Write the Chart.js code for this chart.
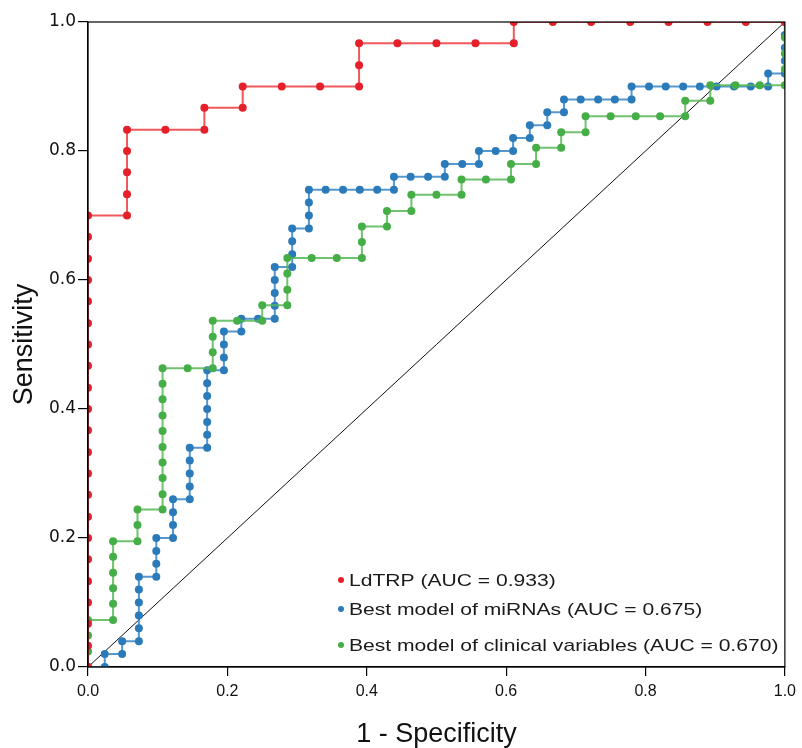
<!DOCTYPE html>
<html><head><meta charset="utf-8">
<script src="https://cdn.jsdelivr.net/npm/chart.js@4.4.1/dist/chart.umd.min.js"></script>
<style>html,body{margin:0;padding:0;background:#fff;overflow:hidden}#wrap{width:802px;height:748px;position:relative}</style>
</head><body><div id="wrap"><canvas id="c" width="802" height="748"></canvas></div>
<script>
// ---- data ----
const redFPR = [0,0,0,0,0,0,0,0,0,0,0,0,0,0,0,0,0,0,0,0,0,0,
  0.056,0.056,0.056,0.056,0.056,0.111,0.167,0.167,0.222,0.222,0.278,0.333,0.389,0.389,0.389,
  0.444,0.500,0.556,0.611,0.611,0.667,0.722,0.778,0.833,0.889,0.944,1];
const redTPR = [0,0.033,0.067,0.100,0.133,0.167,0.200,0.233,0.267,0.300,0.333,0.367,0.400,0.433,0.467,0.500,0.533,0.567,0.600,0.633,0.667,0.700,
  0.700,0.733,0.767,0.800,0.833,0.833,0.833,0.867,0.867,0.900,0.900,0.900,0.900,0.933,0.967,
  0.967,0.967,0.967,0.967,1,1,1,1,1,1,1,1];

const blueFPR = [0,0.024,0.024,0.049,0.049,0.073,0.073,0.073,0.073,0.073,0.073,0.098,0.098,0.098,0.098,
  0.122,0.122,0.122,0.122,0.146,0.146,0.146,0.146,0.146,0.171,0.171,0.171,0.171,0.171,0.171,0.171,
  0.195,0.195,0.195,0.195,0.220,0.220,0.244,0.268,0.268,0.268,0.268,0.268,0.293,0.293,0.293,0.293,
  0.317,0.317,0.317,0.317,0.341,0.366,0.390,0.415,0.439,0.439,0.463,0.488,0.512,0.512,0.537,0.561,0.561,
  0.585,0.610,0.610,0.634,0.634,0.659,0.659,0.683,0.683,0.707,0.732,0.756,0.780,0.780,
  0.805,0.829,0.854,0.878,0.902,0.927,0.951,0.976,0.976,1,1,1,1,1];
const blueTPR = [0,0,0.02,0.02,0.04,0.04,0.06,0.08,0.10,0.12,0.14,0.14,0.16,0.18,0.20,
  0.20,0.22,0.24,0.26,0.26,0.28,0.30,0.32,0.34,0.34,0.36,0.38,0.40,0.42,0.44,0.46,
  0.46,0.48,0.50,0.52,0.52,0.54,0.54,0.54,0.56,0.58,0.60,0.62,0.62,0.64,0.66,0.68,
  0.68,0.70,0.72,0.74,0.74,0.74,0.74,0.74,0.74,0.76,0.76,0.76,0.76,0.78,0.78,0.78,0.80,
  0.80,0.80,0.82,0.82,0.84,0.84,0.86,0.86,0.88,0.88,0.88,0.88,0.88,0.90,
  0.90,0.90,0.90,0.90,0.90,0.90,0.90,0.90,0.92,0.92,0.94,0.96,0.98,1.00];

const greenFPR = [0,0,0,0,0.036,0.036,0.036,0.036,0.036,0.036,0.071,0.071,0.071,
  0.107,0.107,0.107,0.107,0.107,0.107,0.107,0.107,0.107,0.107,0.143,0.179,0.179,0.179,0.179,
  0.214,0.250,0.250,0.286,0.286,0.286,0.286,0.321,0.357,0.393,0.393,0.393,0.429,0.429,0.464,0.464,
  0.500,0.536,0.536,0.571,0.607,0.607,0.643,0.643,0.679,0.679,0.714,0.714,0.750,0.786,0.821,
  0.857,0.857,0.893,0.893,0.929,0.964,1,1,1,1,1];
const greenTPR = [0,0.024,0.049,0.073,0.073,0.098,0.122,0.146,0.171,0.195,0.195,0.220,0.244,
  0.244,0.268,0.293,0.317,0.341,0.366,0.390,0.415,0.439,0.463,0.463,0.463,0.488,0.512,0.537,
  0.537,0.537,0.561,0.561,0.585,0.610,0.634,0.634,0.634,0.634,0.659,0.683,0.683,0.707,0.707,0.732,
  0.732,0.732,0.756,0.756,0.756,0.780,0.780,0.805,0.805,0.829,0.829,0.854,0.854,0.854,0.854,
  0.854,0.878,0.878,0.902,0.902,0.902,0.902,0.927,0.951,0.976,1];

const refLine = [0, 1];
const seriesLabels = ['LdTRP (AUC = 0.933)', 'Best model of miRNAs (AUC = 0.675)', 'Best model of clinical variables (AUC = 0.670)'];
const xTickLabels = ['0.0','0.2','0.4','0.6','0.8','1.0'];
const yTickLabels = ['0.0','0.2','0.4','0.6','0.8','1.0'];

const toPts = (xs, ys) => xs.map((x, i) => ({x, y: ys[i]}));

const colors = {
  red:   {pt: '#e5202a', ln: 'rgba(236,60,62,0.85)'},
  blue:  {pt: '#2b7bbb', ln: 'rgba(56,134,198,0.85)'},
  green: {pt: '#45ae46', ln: 'rgba(86,184,86,0.85)'}
};

function rocSet(label, xs, ys, c, order) {
  return {
    label, data: toPts(xs, ys), showLine: true, order,
    borderColor: c.ln, borderWidth: 2,
    pointBackgroundColor: c.pt, pointBorderColor: c.pt, pointBorderWidth: 0,
    pointRadius: 4, pointHoverRadius: 4, clip: 0, tension: 0
  };
}

const framePlugin = {
  id: 'frame',
  afterDatasetsDraw(chart) {
    const {ctx, chartArea: a} = chart;
    ctx.save();
    ctx.strokeStyle = '#000'; ctx.lineWidth = 1.2;
    ctx.strokeRect(a.left, a.top, a.right - a.left, a.bottom - a.top);
    ctx.restore();
  }
};

const legendPlugin = {
  id: 'insideLegend',
  afterDraw(chart) {
    const {ctx} = chart;
    const rows = [580, 609, 645];
    ctx.save();
    ctx.font = '17px "Liberation Sans", Arial, sans-serif';
    ctx.textBaseline = 'middle';
    ctx.textAlign = 'left';
    [0, 1, 2].forEach(i => {
      const ds = chart.data.datasets[i];
      ctx.fillStyle = ds.pointBackgroundColor;
      ctx.beginPath(); ctx.arc(341, rows[i], 3, 0, Math.PI * 2); ctx.fill();
      ctx.fillStyle = '#1a1a1a';
      ctx.save();
      ctx.translate(349, rows[i] + 1);
      ctx.scale(1.24, 1);
      ctx.fillText(ds.label, 0, 0);
      ctx.restore();
    });
    ctx.restore();
  }
};

new Chart(document.getElementById('c'), {
  type: 'scatter',
  data: {
    datasets: [
      rocSet(seriesLabels[0], redFPR, redTPR, colors.red, 0),
      rocSet(seriesLabels[1], blueFPR, blueTPR, colors.blue, 2),
      rocSet(seriesLabels[2], greenFPR, greenTPR, colors.green, 1),
      {label: 'ref', data: toPts(refLine, refLine), showLine: true, order: 3,
       borderColor: '#111', borderWidth: 1, pointRadius: 0, clip: 0}
    ]
  },
  options: {
    responsive: false, animation: false, devicePixelRatio: 1,
    layout: {padding: {top: 22, right: 16, left: 0, bottom: 0}},
    plugins: {legend: {display: false}, tooltip: {enabled: false}},
    scales: {
      x: {
        type: 'linear', min: 0, max: 1,
        afterFit: s => { s.height = 81; },
        grid: {drawOnChartArea: false, drawTicks: true, tickLength: 9, color: '#000', lineWidth: 1.2},
        border: {display: true, color: '#000', width: 1.2},
        ticks: {stepSize: 0.2, padding: 6, color: '#111', maxRotation: 0,
                font: {family: '"Liberation Sans", Arial, sans-serif', size: 16},
                callback: (v, i) => xTickLabels[i]},
        title: {display: true, text: '1 - Specificity', color: '#111',
                font: {family: '"Liberation Sans", Arial, sans-serif', size: 27, lineHeight: 1},
                padding: {top: 0, bottom: 0}}
      },
      y: {
        type: 'linear', min: 0, max: 1,
        afterFit: s => { s.width = 88; },
        grid: {drawOnChartArea: false, drawTicks: true, tickLength: 10, color: '#000', lineWidth: 1.2},
        border: {display: true, color: '#000', width: 1.2},
        ticks: {stepSize: 0.2, padding: 2, color: '#111',
                font: {family: '"DejaVu Sans", sans-serif', size: 17},
                callback: (v, i) => yTickLabels[i]},
        title: {display: true, text: 'Sensitivity', color: '#111',
                font: {family: '"Liberation Sans", Arial, sans-serif', size: 27, lineHeight: 1},
                padding: {top: 11, bottom: 0}}
      }
    }
  },
  plugins: [framePlugin, legendPlugin]
});
</script></body></html>
